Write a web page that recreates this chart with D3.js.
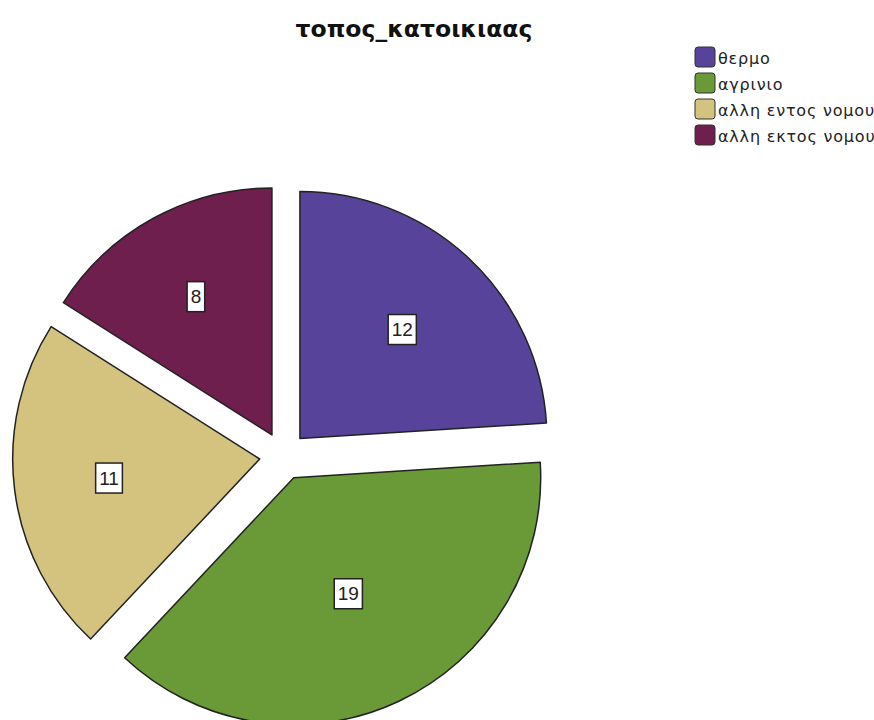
<!DOCTYPE html>
<html>
<head>
<meta charset="utf-8">
<script src="https://cdn.jsdelivr.net/npm/d3@7"></script>
<style>
  html, body { margin: 0; padding: 0; background: #ffffff; }
  svg { display: block; }
</style>
</head>
<body>
<script>
const title = "τοπος_κατοικιαας";
const categories = ["θερμο", "αγρινιο", "αλλη εντος νομου", "αλλη εκτος νομου"];
const values = [12, 19, 11, 8];
const colors = ["#58439a", "#6a9a37", "#d4c37f", "#6e1f4e"];

const W = 874, H = 720;
const cx = 283.5, cy = 456, R = 247, explode = 24;

const svg = d3.select("body").append("svg").attr("width", W).attr("height", H);

svg.append("text")
  .attr("x", 414).attr("y", 37)
  .attr("text-anchor", "middle")
  .attr("font-family", "DejaVu Sans, Verdana, sans-serif")
  .attr("font-weight", "bold")
  .attr("font-size", 23.5)
  .attr("fill", "#111")
  .text(title);

const pie = d3.pie().sort(null).value(d => d);
const arcs = pie(values);
const arc = d3.arc().innerRadius(0).outerRadius(R);

const g = svg.append("g").attr("transform", `translate(${cx},${cy})`);

const slice = g.selectAll("g.slice").data(arcs).join("g")
  .attr("class", "slice")
  .attr("transform", d => {
    const m = (d.startAngle + d.endAngle) / 2;
    return `translate(${Math.sin(m) * explode},${-Math.cos(m) * explode})`;
  });

slice.append("path")
  .attr("d", arc)
  .attr("fill", (d, i) => colors[i])
  .attr("stroke", "#222")
  .attr("stroke-width", 1.5)
  .attr("stroke-linejoin", "round");

slice.each(function(d) {
  const a = (d.endAngle - d.startAngle) / 2;
  const m = (d.startAngle + d.endAngle) / 2;
  const dist = 2 * R * Math.sin(a) / (3 * a);
  const x = Math.sin(m) * dist, y = -Math.cos(m) * dist;
  const sel = d3.select(this);
  const t = sel.append("text")
    .attr("x", x).attr("y", y)
    .attr("text-anchor", "middle")
    .attr("dominant-baseline", "central")
    .attr("font-family", "Liberation Sans, Arial, sans-serif")
    .attr("font-size", 19)
    .attr("fill", "#222")
    .text(d.data);
  const bb = t.node().getBBox();
  sel.insert("rect", "text")
    .attr("x", bb.x - 3.5).attr("y", y - 15)
    .attr("width", bb.width + 7).attr("height", 30)
    .attr("fill", "#fff")
    .attr("stroke", "#222")
    .attr("stroke-width", 1.5);
});

const legend = svg.append("g").attr("transform", "translate(695,47)");
const li = legend.selectAll("g").data(categories).join("g")
  .attr("transform", (d, i) => `translate(0,${i * 26})`);
li.append("rect")
  .attr("width", 20).attr("height", 20).attr("rx", 3)
  .attr("fill", (d, i) => colors[i])
  .attr("stroke", "#333").attr("stroke-width", 1);
li.append("text")
  .attr("x", 23).attr("y", 11)
  .attr("dominant-baseline", "central")
  .attr("font-family", "DejaVu Sans, Verdana, sans-serif")
  .attr("font-size", 16)
  .attr("letter-spacing", 0.8)
  .attr("fill", "#222")
  .text(d => d);
</script>
</body>
</html>
